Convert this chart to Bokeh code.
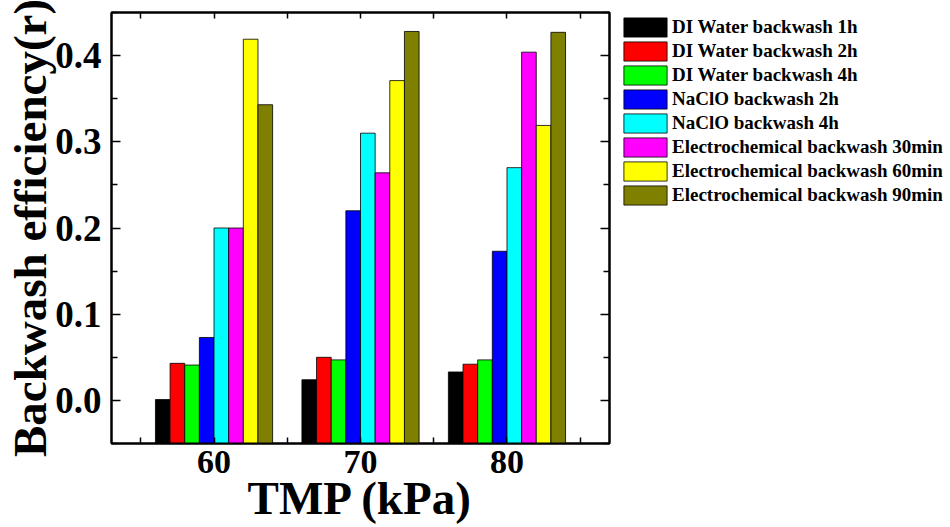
from bokeh.plotting import figure
from bokeh.models import (ColumnDataSource, Legend, LegendItem, LinearAxis,
                          FixedTicker, Range1d, Title)
from bokeh.layouts import row
from bokeh.transform import dodge
from bokeh.embed import file_html
from bokeh.resources import INLINE

# ---- data ----
tmp = [60, 70, 80]
series_names = [
    "DI Water backwash 1h",
    "DI Water backwash 2h",
    "DI Water backwash 4h",
    "NaClO backwash 2h",
    "NaClO backwash 4h",
    "Electrochemical backwash 30min",
    "Electrochemical backwash 60min",
    "Electrochemical backwash 90min",
]
di_water_1h = [0.001, 0.024, 0.033]
di_water_2h = [0.043, 0.050, 0.042]
di_water_4h = [0.041, 0.047, 0.047]
naclo_2h = [0.073, 0.220, 0.173]
naclo_4h = [0.200, 0.310, 0.270]
electro_30min = [0.200, 0.264, 0.404]
electro_60min = [0.419, 0.371, 0.319]
electro_90min = [0.343, 0.428, 0.427]
y_ticks = [0.0, 0.1, 0.2, 0.3, 0.4]
y_tick_labels = ["0.0", "0.1", "0.2", "0.3", "0.4"]
x_ticks = [55, 60, 65, 70, 75, 80, 85]
x_tick_labels = ["", "60", "", "70", "", "80", ""]

colors = ["#000000", "#FF0000", "#00FF00", "#0000FF",
          "#00FFFF", "#FF00FF", "#FFFF00", "#808000"]
series = [di_water_1h, di_water_2h, di_water_4h, naclo_2h,
          naclo_4h, electro_30min, electro_60min, electro_90min]
keys = ["s%d" % i for i in range(len(series))]

data = {"tmp": tmp}
for k, s in zip(keys, series):
    data[k] = s
source = ColumnDataSource(data)

FONT = "Liberation Serif"
Y0 = -0.05
H = 526

p = figure(width=613, height=H,
           x_range=Range1d(53, 87), y_range=Range1d(Y0, 0.45),
           output_backend="svg", toolbar_location=None,
           min_border_left=111, min_border_right=4,
           min_border_top=12, min_border_bottom=83)
p.xgrid.visible = False
p.ygrid.visible = False
p.outline_line_color = "black"
p.outline_line_width = 2
p.background_fill_color = "white"
p.border_fill_color = "white"

bar_w = 1.0
for i, k in enumerate(keys):
    p.vbar(x=dodge("tmp", (i - 3.5) * bar_w), top=k, bottom=Y0,
           width=bar_w, source=source, fill_color=colors[i],
           line_color="black", line_width=1, line_alpha=0.8)


def style_axis(ax, ticks, minor, labels, show_labels=True):
    ax.ticker = FixedTicker(ticks=ticks, minor_ticks=minor)
    ax.major_label_overrides = {t: l for t, l in zip(ticks, labels)}
    ax.axis_line_width = 2
    ax.axis_line_color = "black"
    ax.major_tick_in = 9
    ax.major_tick_out = 0
    ax.minor_tick_in = 6
    ax.minor_tick_out = 0
    ax.major_tick_line_width = 1.5
    ax.minor_tick_line_width = 1.5
    ax.major_tick_line_color = "black"
    ax.minor_tick_line_color = "black"
    ax.major_label_text_font = FONT
    ax.major_label_text_font_style = "bold"
    ax.major_label_text_color = "black"
    if not show_labels:
        ax.major_label_text_font_size = "0px"
        ax.major_label_standoff = 0


y_minor = [-0.05, 0.05, 0.15, 0.25, 0.35, 0.45]
x_minor = []

ya = p.yaxis[0]
style_axis(ya, y_ticks, y_minor, y_tick_labels)
ya.major_label_text_font_size = "37px"
ya.major_label_standoff = 10

ytitle = Title(text="Backwash efficiency(r)", align="center", offset=-24,
               text_font=FONT, text_font_style="bold",
               text_font_size="47px", text_color="black", standoff=-7)
p.add_layout(ytitle, "left")

xa = p.xaxis[0]
style_axis(xa, x_ticks, x_minor, x_tick_labels)
xa.major_tick_in = 6
xa.major_label_text_font_size = "34px"
xa.major_label_standoff = 7
xa.axis_label = "TMP (kPa)"
xa.axis_label_text_font = FONT
xa.axis_label_text_font_style = "bold"
xa.axis_label_text_font_size = "47px"
xa.axis_label_text_color = "black"
xa.axis_label_standoff = -4

ra = LinearAxis()
style_axis(ra, y_ticks, y_minor, ["" for _ in y_ticks], show_labels=False)
p.add_layout(ra, "right")

ta = LinearAxis()
style_axis(ta, x_ticks, x_minor, ["" for _ in x_ticks], show_labels=False)
ta.major_tick_in = 6
p.add_layout(ta, "above")

# ---- legend panel (separate figure to the right; its bars fall outside its ranges) ----
lg = figure(width=335, height=H, x_range=Range1d(0, 1), y_range=Range1d(0, 1),
            output_backend="svg", toolbar_location=None,
            x_axis_location=None, y_axis_location=None,
            min_border_left=2, min_border_right=0,
            min_border_top=10, min_border_bottom=0)
lg.xgrid.visible = False
lg.ygrid.visible = False
lg.outline_line_color = None
lg.background_fill_color = "white"
lg.border_fill_color = "white"

items = []
for name, k, c in zip(series_names, keys, colors):
    r = lg.vbar(x="tmp", top=k, bottom=Y0, width=bar_w, source=source,
                fill_color=c, line_color="black", line_width=1, line_alpha=0.8)
    items.append(LegendItem(label=name, renderers=[r]))

legend = Legend(items=items, location="top_left")
legend.label_text_font = FONT
legend.label_text_font_style = "bold"
legend.label_text_font_size = "19px"
legend.label_text_color = "black"
legend.glyph_width = 54
legend.glyph_height = 24
legend.label_height = 20
legend.label_standoff = 0
legend.spacing = 0
legend.padding = 0
legend.margin = 3
legend.border_line_alpha = 0
legend.background_fill_alpha = 0
lg.add_layout(legend)

layout = row(p, lg)
open("out.html", "w").write(file_html(layout, INLINE))
